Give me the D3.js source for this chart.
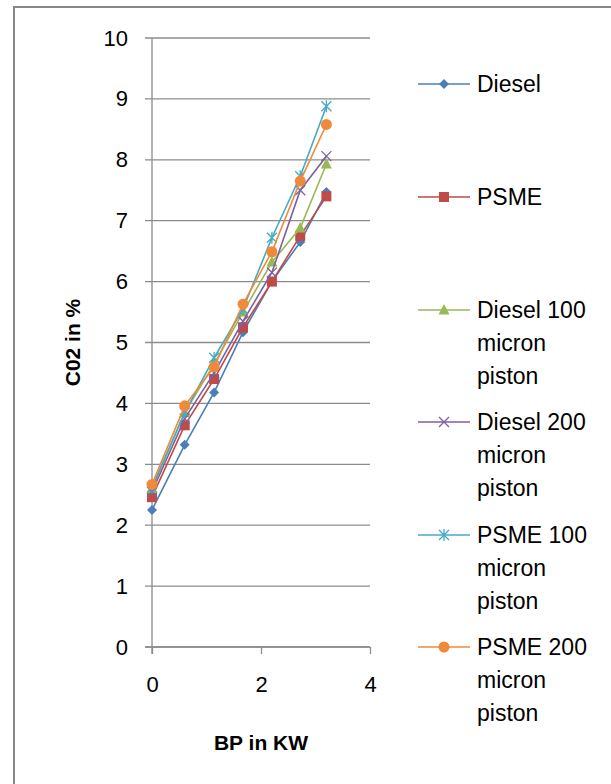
<!DOCTYPE html>
<html>
<head>
<meta charset="utf-8">
<script src="https://cdn.jsdelivr.net/npm/d3@7"></script>
<style>
  body { margin: 0; background: #fff; }
  text { font-family: "Liberation Sans", Arial, sans-serif; fill: #000; }
</style>
</head>
<body>
<svg id="chart" width="611" height="784"></svg>
<script>
// BP (kW) readings shared by all series
const bp = [0, 0.6, 1.14, 1.67, 2.2, 2.72, 3.2];

// CO2 % for each fuel / piston combination
const diesel      = [2.25, 3.32, 4.18, 5.17, 6.0, 6.65, 7.47];
const psme        = [2.46, 3.64, 4.40, 5.25, 6.0, 6.75, 7.40];
const diesel100   = [2.6, 3.85, 4.65, 5.5, 6.32, 6.88, 7.93];
const diesel200   = [2.55, 3.75, 4.5, 5.35, 6.15, 7.5, 8.06];
const psme100     = [2.62, 3.85, 4.75, 5.55, 6.72, 7.73, 8.88];
const psme200     = [2.67, 3.96, 4.6, 5.63, 6.49, 7.65, 8.58];

const seriesNames = ["Diesel", "PSME", "Diesel 100 micron piston", "Diesel 200 micron piston",
                     "PSME 100 micron piston", "PSME 200 micron piston"];
const legendLines = [["Diesel"], ["PSME"], ["Diesel 100", "micron", "piston"],
                     ["Diesel 200", "micron", "piston"], ["PSME 100", "micron", "piston"],
                     ["PSME 200", "micron", "piston"]];
const seriesValues = [diesel, psme, diesel100, diesel200, psme100, psme200];
const colors = ["#4a7ebb", "#be4b48", "#98b954", "#7d60a0", "#46aac5", "#f08a3a"];
const markers = ["diamond", "square", "triangle", "x", "star", "circle"];

const yTicks = [0, 1, 2, 3, 4, 5, 6, 7, 8, 9, 10];
const xTicks = [0, 2, 4];

const margin = {top: 38, left: 152};
const width = 218, height = 609;

const svg = d3.select("#chart");

// outer frame
svg.append("rect")
    .attr("x", 14).attr("y", 7)
    .attr("width", 700).attr("height", 900)
    .attr("fill", "none")
    .attr("stroke", "#888")
    .attr("stroke-width", 2);

const g = svg.append("g").attr("transform", `translate(${margin.left},${margin.top})`);

const x = d3.scaleLinear().domain([0, 4]).range([0, width]);
const y = d3.scaleLinear().domain([0, 10]).range([height, 0]);

// gridlines
g.append("g")
    .selectAll("line")
    .data(yTicks)
    .enter()
    .append("line")
    .attr("x1", -7).attr("x2", width)
    .attr("y1", d => y(d)).attr("y2", d => y(d))
    .attr("stroke", "#8c8c8c")
    .attr("stroke-width", 1.3);

// y axis
const yAxis = g.append("g")
    .call(d3.axisLeft(y).tickValues(yTicks).tickSize(0).tickPadding(24));
yAxis.select(".domain").remove();
yAxis.selectAll("text").attr("font-size", "22px").attr("fill", "#000")
    .style("font-family", "'Liberation Sans', Arial, sans-serif");
g.append("line")
    .attr("x1", 0).attr("x2", 0).attr("y1", 0).attr("y2", height + 7)
    .attr("stroke", "#8c8c8c").attr("stroke-width", 1.3);

// x axis
const xAxis = g.append("g")
    .attr("transform", `translate(0,${height})`)
    .call(d3.axisBottom(x).tickValues(xTicks).tickFormat(d3.format("d")).tickSize(7).tickPadding(22));
xAxis.select(".domain").attr("stroke", "#8c8c8c").attr("stroke-width", 1.3)
    .attr("d", `M-7,0H${width}`);
xAxis.selectAll("line").attr("stroke", "#8c8c8c").attr("stroke-width", 1.3);
xAxis.selectAll("text").attr("font-size", "22px").attr("fill", "#000")
    .style("font-family", "'Liberation Sans', Arial, sans-serif");

// axis titles
g.append("text")
    .attr("x", x(2))
    .attr("y", height + 103)
    .attr("text-anchor", "middle")
    .attr("font-size", "21px")
    .attr("font-weight", "bold")
    .text("BP in KW");

g.append("text")
    .attr("transform", "rotate(-90)")
    .attr("x", -y(5))
    .attr("y", -72)
    .attr("text-anchor", "middle")
    .attr("font-size", "21px")
    .attr("font-weight", "bold")
    .text("C02 in %");

// marker drawing
function drawMarker(sel, type, color) {
    if (type === "diamond") {
        sel.append("path").attr("d", "M0,-5L5,0L0,5L-5,0Z").attr("fill", color);
    } else if (type === "square") {
        sel.append("rect").attr("x", -5).attr("y", -5).attr("width", 10).attr("height", 10).attr("fill", color);
    } else if (type === "triangle") {
        sel.append("path").attr("d", "M0,-6L5.5,4.5L-5.5,4.5Z").attr("fill", color);
    } else if (type === "x") {
        sel.append("path").attr("d", "M-5,-5L5,5M-5,5L5,-5")
            .attr("stroke", color).attr("stroke-width", 1.3).attr("fill", "none");
    } else if (type === "star") {
        sel.append("path").attr("d", "M-5,-5L5,5M-5,5L5,-5M0,-6V6")
            .attr("stroke", color).attr("stroke-width", 1.3).attr("fill", "none");
    } else {
        sel.append("circle").attr("r", 5.5).attr("fill", color);
    }
}

const line = d3.line()
    .x((d, i) => x(bp[i]))
    .y(d => y(d));

seriesValues.forEach((vals, si) => {
    g.append("path")
        .datum(vals)
        .attr("d", line)
        .attr("fill", "none")
        .attr("stroke", colors[si])
        .attr("stroke-width", 1.6);
    vals.forEach((v, i) => {
        const m = g.append("g").attr("transform", `translate(${x(bp[i])},${y(v)})`);
        drawMarker(m, markers[si], colors[si]);
    });
});

// legend
const legendY = [84, 197, 310, 422, 535, 647];
const legend = svg.append("g");
seriesNames.forEach((name, si) => {
    const item = legend.append("g").attr("transform", `translate(418,${legendY[si]})`);
    item.append("line")
        .attr("x1", 0).attr("x2", 52).attr("y1", 0).attr("y2", 0)
        .attr("stroke", colors[si]).attr("stroke-width", 1.6);
    const m = item.append("g").attr("transform", "translate(26,0)");
    drawMarker(m, markers[si], colors[si]);
    legendLines[si].forEach((t, li) => {
        item.append("text")
            .attr("x", 59)
            .attr("y", 8 + li * 33)
            .attr("font-size", "23px")
            .text(t);
    });
});
</script>
</body>
</html>
